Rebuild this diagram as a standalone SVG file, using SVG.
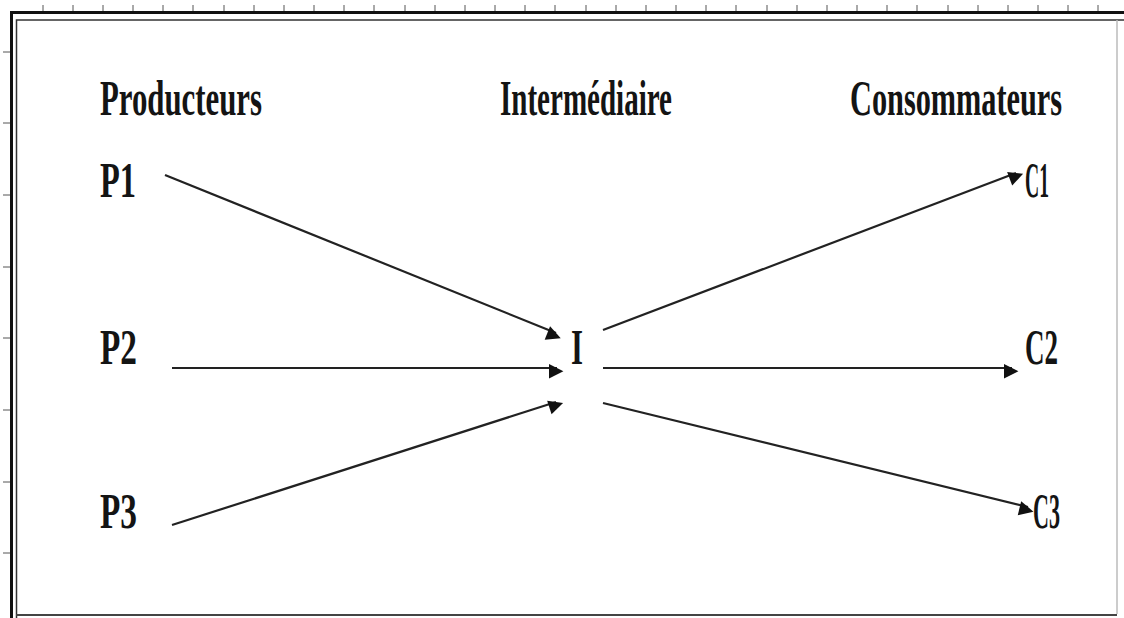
<svg xmlns="http://www.w3.org/2000/svg" width="1124" height="618" viewBox="0 0 1124 618">
<style>
.t{font-family:"Liberation Serif","Times New Roman",serif;font-weight:bold;fill:#141414;font-size:50px}
.c{stroke:#222;stroke-width:2.2;fill:none;marker-end:url(#ah)}
.tick{stroke:#555;stroke-width:1}
</style>
<defs>
<marker id="ah" viewBox="0 0 10 10" refX="10" refY="5" markerWidth="8" markerHeight="8" markerUnits="userSpaceOnUse" orient="auto" overflow="visible">
<path d="M0,0 L10,5 L0,10 z" fill="#111" transform="scale(1.8)"/>
</marker>
</defs>
<rect width="1124" height="618" fill="#fff"/>
<g id="ruler">
<g class="tick">
<path d="M43,5V12M73,5V12M103,5V12M133,5V12M163,5V12M193,5V12M224,5V12M254,5V12M284,5V12M314,5V12M344,5V12M374,5V12M405,5V12M435,5V12M465,5V12M495,5V12M525,5V12M555,5V12M586,5V12M616,5V12M646,5V12M676,5V12M706,5V12M736,5V12M767,5V12M797,5V12M827,5V12M857,5V12M887,5V12M917,5V12M948,5V12M978,5V12M1008,5V12M1038,5V12M1068,5V12M1098,5V12"/>
<path d="M3,52H10M3,123H10M3,195H10M3,267H10M3,338H10M3,410H10M3,482H10M3,553H10"/>
</g>
</g>
<g id="frame" fill="none">
<path d="M11.5,618V12.5H1124" stroke="#111" stroke-width="3"/>
<path d="M16.5,618V20H1124" stroke="#333" stroke-width="1.5"/>
<path d="M1117,20V614" stroke="#bbb" stroke-width="1.5"/>
<path d="M16,615H1117" stroke="#444" stroke-width="2"/>
</g>
<g id="producteurs"><text class="t" x="100" y="115" textLength="162" lengthAdjust="spacingAndGlyphs">Producteurs</text></g>
<g id="intermediaire"><text class="t" x="500" y="115" textLength="172" lengthAdjust="spacingAndGlyphs">Intermédiaire</text></g>
<g id="consommateurs"><text class="t" transform="translate(850,115) scale(0.606,1)" x="0" y="0" textLength="350" lengthAdjust="spacingAndGlyphs">Consommateurs</text></g>
<g id="P1"><text class="t" x="100" y="197" textLength="36" lengthAdjust="spacingAndGlyphs">P1</text></g>
<g id="P2"><text class="t" x="100" y="364" textLength="37" lengthAdjust="spacingAndGlyphs">P2</text></g>
<g id="P3"><text class="t" x="100" y="528" textLength="37" lengthAdjust="spacingAndGlyphs">P3</text></g>
<g id="I"><text class="t" x="571" y="364" textLength="12" lengthAdjust="spacingAndGlyphs">I</text></g>
<g id="C1"><text class="t" x="1025" y="197" textLength="24" lengthAdjust="spacingAndGlyphs">C1</text></g>
<g id="C2"><text class="t" x="1025" y="364" textLength="33" lengthAdjust="spacingAndGlyphs">C2</text></g>
<g id="C3"><text class="t" x="1033" y="528" textLength="27" lengthAdjust="spacingAndGlyphs">C3</text></g>
<g id="connectors">
<path class="c" d="M165,175L556,333"/>
<path class="c" d="M172,368L557,368"/>
<path class="c" d="M172,525L556,402"/>
<path class="c" d="M603,330L1016,173"/>
<path class="c" d="M603,368L1012,368"/>
<path class="c" d="M603,403L1028,507"/>
</g>
</svg>
